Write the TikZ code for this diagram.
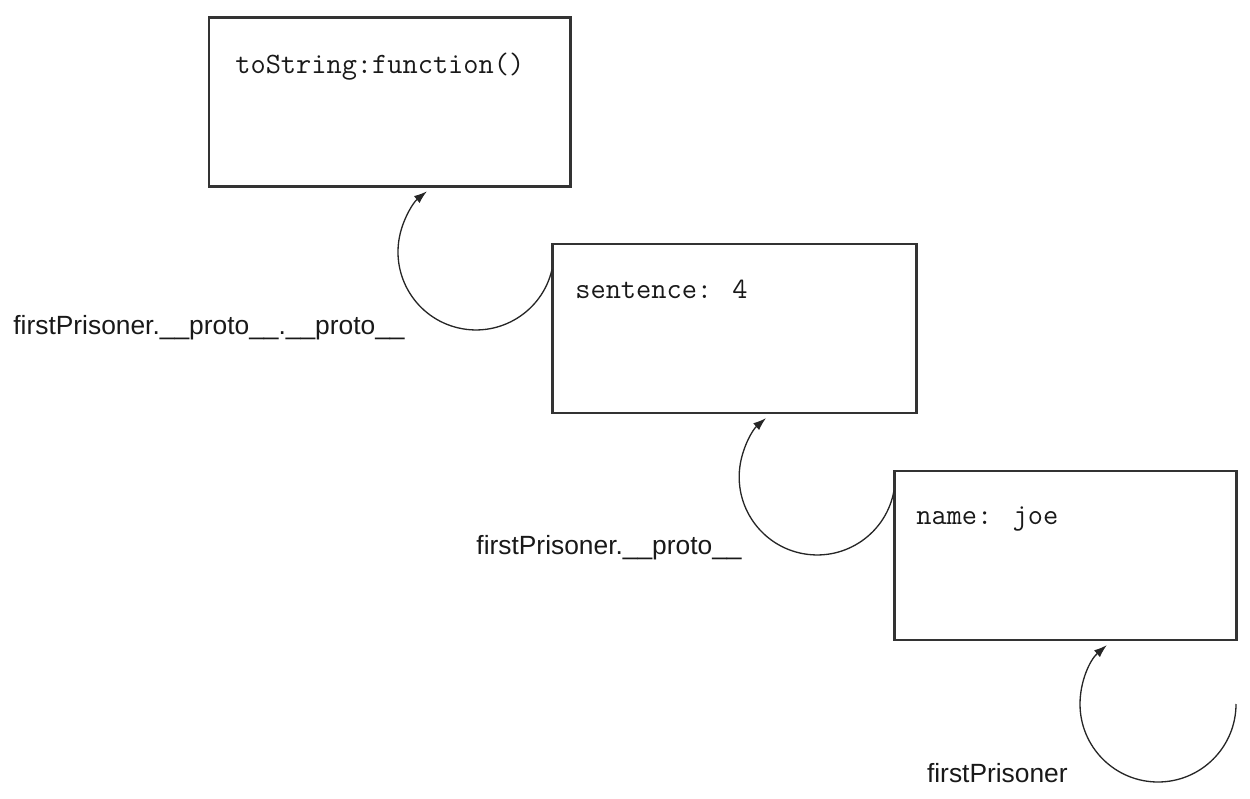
\documentclass[tikz,border=0pt]{standalone}
\usepackage{fontspec}
\setmainfont{Liberation Sans}
\usepackage{tikz}
\usetikzlibrary{arrows.meta}

\begin{document}
\begin{tikzpicture}
			\definecolor{cbox}{rgb}{0.2,0.2,0.2}
			\definecolor{cptr}{rgb}{0.15,0.15,0.15}
			\definecolor{clab}{rgb}{0.1,0.1,0.1}
			\tikzset{
				objbox/.style={draw=cbox,line width=1.7pt,outer sep=0pt,inner sep=0pt,shape=rectangle,minimum height=3.38cm},
				codetext/.style={anchor=base west,inner sep=0pt,text=clab,font=\ttfamily\fontsize{16.8pt}{18pt}\selectfont},
				protolabel/.style={anchor=base east,inner sep=0pt,text=clab,font=\fontsize{15pt}{18pt}\selectfont},
				protoptr/.style={draw=cptr,line width=0.75pt,-{Latex[length=2.6mm,width=1.8mm]}}
			}
			\useasboundingbox (0,0) rectangle (25,15.96);
			%
			\node[objbox,minimum width=7.22cm] (o0) at (7.79,13.92) {};
			\node[objbox,minimum width=7.28cm] (o1) at (14.68,9.39) {};
			\node[objbox,minimum width=6.84cm] (o2) at (21.30,4.85) {};
			%
			\node[codetext] (t0) at ([xshift=0.52cm,yshift=-1.12cm]o0.north west) {toString:function()};
			\node[codetext] (t1) at ([xshift=0.46cm,yshift=-1.1cm]o1.north west) {sentence: 4};
			\node[codetext] (t2) at ([xshift=0.44cm,yshift=-1.08cm]o2.north west) {name: joe};
			%
			\node[protolabel] (l0) at (8.1,9.26) {firstPrisoner.\_\_proto\_\_.\_\_proto\_\_};
			\node[protolabel] (l1) at (14.84,4.86) {firstPrisoner.\_\_proto\_\_};
			\node[protolabel] (l2) at (21.36,0.32) {firstPrisoner};
			%
			\coordinate (p0) at ([yshift=-0.51cm]o1.north west);
			\coordinate (p1) at ([yshift=-0.39cm]o2.north west);
			\coordinate (p2) at ([yshift=-1.28cm]o2.south east);
			\draw[protoptr] (p0) arc[start angle=-13,end angle=-231,radius=1.56cm];
			\draw[protoptr] (p1) arc[start angle=-10,end angle=-229,radius=1.56cm];
			\draw[protoptr] (p2) arc[start angle=0,end angle=-229,radius=1.56cm];
			%
		\end{tikzpicture}
\end{document}
